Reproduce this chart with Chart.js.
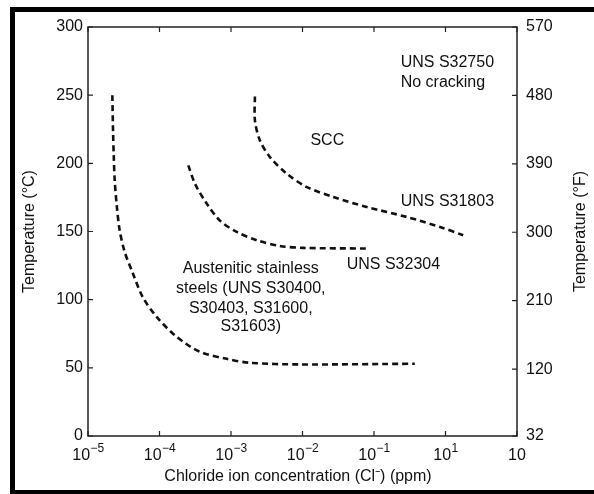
<!DOCTYPE html>
<html>
<head>
<meta charset="utf-8">
<script src="https://cdn.jsdelivr.net/npm/chart.js@4.4.0/dist/chart.umd.min.js"></script>
<style>
  html, body { margin: 0; padding: 0; background: #fff; }
  #wrap { position: relative; width: 594px; height: 494px; overflow: hidden; }
  #frame {
    position: absolute; left: 10px; top: 7px; width: 600px; height: 478px;
    border-left: 5px solid #000; border-top: 5px solid #000; border-bottom: 5px solid #000;
  }
  canvas { position: absolute; left: 0; top: 0; }
</style>
</head>
<body>
<div id="wrap">
  <div id="frame"></div>
  <canvas id="chart" width="594" height="494"></canvas>
</div>
<script>
// x axis ticks (ppm) and their printed labels (base + exponent, as in the original figure)
const xTicks = [1e-5, 1e-4, 1e-3, 1e-2, 1e-1, 1, 10]
const xTickBase = ["10", "10", "10", "10", "10", "10", "10"]
const xTickExp = ["\u22125", "\u22124", "\u22123", "\u22122", "\u22121", "1", ""]
const cTicks = [0, 50, 100, 150, 200, 250, 300]
const fTicks = [32, 120, 210, 300, 390, 480, 570]

// Austenitic stainless steels curve
const austX = [2.19e-5, 2.24e-5, 2.29e-5, 2.36e-5, 2.52e-5, 2.77e-5, 3.26e-5, 4.22e-5, 5.82e-5, 9.14e-5, 1.74e-4, 3.66e-4, 8.73e-4, 1.83e-3, 9.16e-3, 0.372]
const austY = [250, 224, 206, 188, 169.5, 151, 135, 119.6, 102, 87.4, 72.7, 61.8, 56.6, 53.7, 52.5, 53]

// UNS S32304 curve
const s32304X = [2.53e-4, 3.14e-4, 4.57e-4, 7.0e-4, 1.2e-3, 2.3e-3, 4.8e-3, 1.02e-2, 7.9e-2]
const s32304Y = [198.5, 185, 170.5, 158, 149.7, 143.6, 139.4, 138, 137.5]

// UNS S31803 curve
const s31803X = [2.16e-3, 2.16e-3, 2.53e-3, 3.5e-3, 6.0e-3, 1.15e-2, 2.7e-2, 7.9e-2, 0.286, 0.84, 1.77]
const s31803Y = [249, 231.5, 217, 204.6, 192.5, 182.6, 175.3, 168, 160.7, 153.3, 147.3]

function toPoints(xs, ys) {
    return xs.map((x, i) => ({ x: x, y: ys[i] }))
}

const fam = "'Liberation Sans', Arial, sans-serif"
const lineFont = "16px " + fam
const ink = '#111'

// inward ticks, box, x tick labels and text labels
const decorPlugin = {
    id: 'decor',
    afterDraw(chart) {
        const ctx = chart.ctx
        const a = chart.chartArea
        const xs = chart.scales.x, yc = chart.scales.y, yf = chart.scales.y2
        ctx.save()
        ctx.strokeStyle = '#222'
        ctx.lineWidth = 1.5
        ctx.strokeRect(a.left, a.top, a.right - a.left, a.bottom - a.top)
        ctx.lineWidth = 1.2
        ctx.beginPath()
        xTicks.forEach(v => {
            const px = xs.getPixelForValue(v)
            ctx.moveTo(px, a.bottom); ctx.lineTo(px, a.bottom - 5)
            ctx.moveTo(px, a.top); ctx.lineTo(px, a.top + 5)
        })
        cTicks.forEach(v => {
            const py = yc.getPixelForValue(v)
            ctx.moveTo(a.left, py); ctx.lineTo(a.left + 5, py)
        })
        fTicks.forEach(v => {
            const py = yf.getPixelForValue(v)
            ctx.moveTo(a.right, py); ctx.lineTo(a.right - 5, py)
        })
        ctx.stroke()

        ctx.fillStyle = ink
        ctx.textBaseline = 'middle'

        // x tick labels with raised exponent
        xTicks.forEach((v, i) => {
            const px = xs.getPixelForValue(v)
            ctx.font = lineFont
            const wb = ctx.measureText(xTickBase[i]).width
            ctx.font = "12px " + fam
            const we = ctx.measureText(xTickExp[i]).width
            const x0 = px - (wb + we) / 2
            ctx.textAlign = 'left'
            ctx.font = lineFont
            ctx.fillText(xTickBase[i], x0, a.bottom + 20)
            ctx.font = "12px " + fam
            ctx.fillText(xTickExp[i], x0 + wb + 0.5, a.bottom + 13)
        })

        ctx.font = lineFont
        // region labels
        ctx.textAlign = 'left'
        ctx.fillText("UNS S32750", xs.getPixelForValue(0.236), yc.getPixelForValue(274))
        ctx.fillText("No cracking", xs.getPixelForValue(0.236), yc.getPixelForValue(259.5))
        ctx.fillText("SCC", xs.getPixelForValue(0.0129), yc.getPixelForValue(217))
        ctx.fillText("UNS S31803", xs.getPixelForValue(0.236), yc.getPixelForValue(172))
        ctx.fillText("UNS S32304", xs.getPixelForValue(0.0415), yc.getPixelForValue(125.5))
        ctx.textAlign = 'center'
        const ax = xs.getPixelForValue(1.89e-3)
        ctx.fillText("Austenitic stainless", ax, yc.getPixelForValue(122.5))
        ctx.fillText("steels (UNS S30400,", ax, yc.getPixelForValue(108))
        ctx.fillText("S30403, S31600,", ax, yc.getPixelForValue(93.5))
        ctx.fillText("S31603)", ax, yc.getPixelForValue(80))

        // axis titles
        const midY = (a.top + a.bottom) / 2
        ctx.fillText("Chloride ion concentration (Cl\u207B) (ppm)", 298, 477)
        ctx.translate(30, midY)
        ctx.rotate(-Math.PI / 2)
        ctx.fillText("Temperature (\u00B0C)", 0, 0)
        ctx.rotate(Math.PI / 2)
        ctx.translate(581 - 30, 0)
        ctx.rotate(-Math.PI / 2)
        ctx.fillText("Temperature (\u00B0F)", 0, 0)
        ctx.restore()
    }
}

const curveStyle = {
    borderColor: '#111',
    borderWidth: 2.6,
    borderDash: [6, 4],
    pointRadius: 0,
    fill: false,
    tension: 0.3
}

new Chart(document.getElementById("chart").getContext("2d"), {
    type: 'line',
    data: {
        datasets: [
            { label: 'Austenitic', data: toPoints(austX, austY), ...curveStyle },
            { label: 'UNS S32304', data: toPoints(s32304X, s32304Y), ...curveStyle },
            { label: 'UNS S31803', data: toPoints(s31803X, s31803Y), ...curveStyle }
        ]
    },
    options: {
        responsive: false,
        animation: false,
        layout: { padding: { top: 27, left: 0, right: 0, bottom: 0 } },
        plugins: { legend: { display: false }, tooltip: { enabled: false } },
        scales: {
            x: {
                type: 'logarithmic',
                min: 1e-5,
                max: 10,
                grid: { display: false, drawTicks: false },
                border: { display: false },
                afterBuildTicks: s => { s.ticks = xTicks.map(v => ({ value: v })) },
                afterFit: s => { s.height = 58 },
                ticks: { display: false }
            },
            y: {
                position: 'left',
                min: 0,
                max: 300,
                grid: { display: false, drawTicks: false },
                border: { display: false },
                afterBuildTicks: s => { s.ticks = cTicks.map(v => ({ value: v })) },
                afterFit: s => { s.width = 88 },
                ticks: {
                    padding: 5,
                    color: ink,
                    font: { family: fam, size: 16 }
                }
            },
            y2: {
                position: 'right',
                min: 32,
                max: 570,
                grid: { display: false, drawTicks: false },
                border: { display: false },
                afterBuildTicks: s => { s.ticks = fTicks.map(v => ({ value: v })) },
                afterFit: s => { s.width = 77 },
                ticks: {
                    padding: 9,
                    color: ink,
                    font: { family: fam, size: 16 }
                }
            }
        }
    },
    plugins: [decorPlugin]
});
</script>
</body>
</html>
